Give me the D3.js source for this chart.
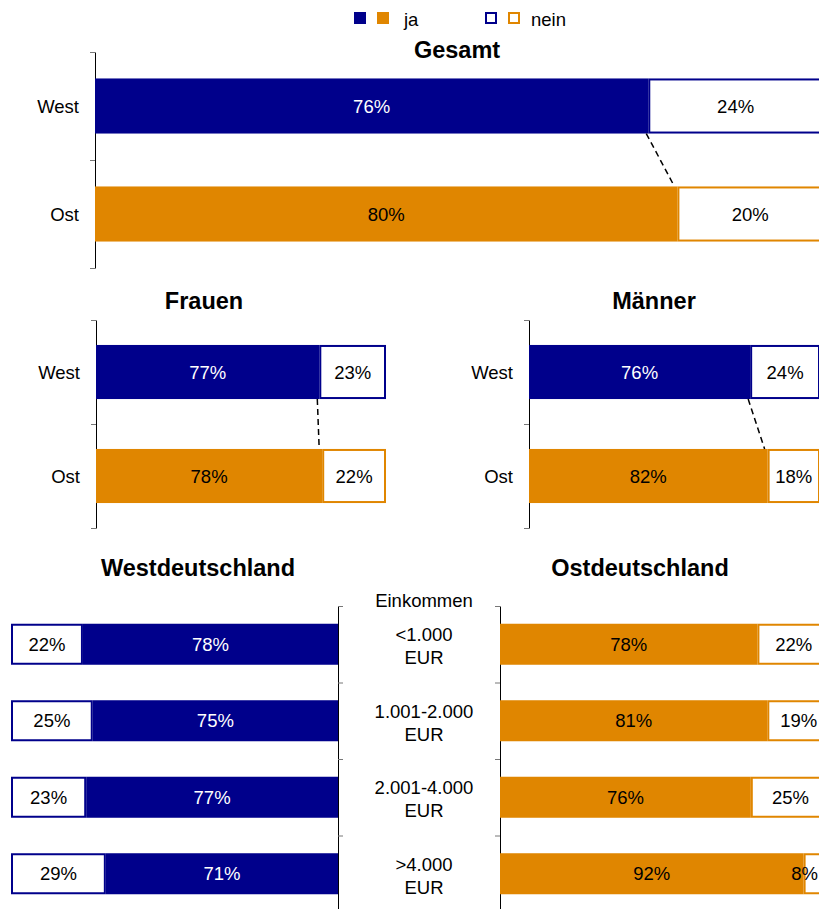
<!DOCTYPE html>
<html lang="de">
<meta charset="utf-8">
<style>
body { margin: 0; background: #fff; }
svg { display: block; font-family: "Liberation Sans", Arial, sans-serif; }
.axis path { stroke: #000; }
.axis line { stroke: #777; }
</style>
<body>
<script src="https://d3js.org/d3.v7.min.js"></script>
<script>
// data
var groups = ["West", "Ost"];
var gesamtJa = [76, 80];
var gesamtNein = [24, 20];
var frauenJa = [77, 78];
var frauenNein = [23, 22];
var maennerJa = [76, 82];
var maennerNein = [24, 18];
var incomeCats = [["<1.000", "EUR"], ["1.001-2.000", "EUR"], ["2.001-4.000", "EUR"], [">4.000", "EUR"]];
var westJa = [78, 75, 77, 71];
var westNein = [22, 25, 23, 29];
var ostJa = [78, 81, 76, 92];
var ostNein = [22, 19, 25, 8];

var blue = "#00008b";
var orange = "#e08600";

var w = 819, h = 909;
var fs = 18.5;

var svg = d3.select("body").append("svg")
  .attr("width", w)
  .attr("height", h);

// legend
var legend = svg.append("g");
legend.append("rect").attr("x", 354).attr("y", 12).attr("width", 12).attr("height", 12).attr("fill", blue);
legend.append("rect").attr("x", 377).attr("y", 12).attr("width", 12).attr("height", 12).attr("fill", orange);
legend.append("text").attr("x", 404).attr("y", 26).attr("font-size", fs).text("ja");
legend.append("rect").attr("x", 486).attr("y", 13).attr("width", 10).attr("height", 10)
  .attr("fill", "#fff").attr("stroke", blue).attr("stroke-width", 2);
legend.append("rect").attr("x", 509).attr("y", 13).attr("width", 10).attr("height", 10)
  .attr("fill", "#fff").attr("stroke", orange).attr("stroke-width", 2);
legend.append("text").attr("x", 531).attr("y", 26).attr("font-size", fs).text("nein");

function title(x, y, t) {
  svg.append("text").attr("x", x).attr("y", y)
    .attr("text-anchor", "middle")
    .attr("font-size", 23.5).attr("font-weight", "bold")
    .text(t);
}

// one panel of stacked bars (ja + nein)
function panel(o) {
  var g = svg.append("g");
  var y = d3.scaleBand().domain(d3.range(o.ja.length)).range(o.yRange).paddingInner(o.pad).paddingOuter(o.pad / 2);
  var x = d3.scaleLinear().domain([0, 100]).range(o.xRange);
  var bw = y.bandwidth();

  // axis with ticks on band boundaries
  var yb = d3.scaleLinear().domain([0, o.ja.length]).range(o.yRange);
  var axis = (o.axisRight ? d3.axisRight(yb) : d3.axisLeft(yb))
    .tickValues(d3.range(o.ja.length + 1)).tickSize(5).tickSizeOuter(0).tickFormat("");
  g.append("g").attr("class", "axis")
    .attr("transform", "translate(" + o.xRange[0] + ",0)")
    .call(axis);

  var rows = g.selectAll(".row").data(o.ja).enter().append("g").attr("class", "row");

  rows.append("rect")
    .attr("x", function(d) { return Math.min(x(0), x(d)); })
    .attr("y", function(d, i) { return y(i); })
    .attr("width", function(d) { return Math.abs(x(d) - x(0)); })
    .attr("height", bw)
    .attr("fill", function(d, i) { return o.color(i); });

  rows.append("rect")
    .attr("x", function(d) { return Math.min(x(d), x(100)) + 1; })
    .attr("y", function(d, i) { return y(i) + 1; })
    .attr("width", function(d) { return Math.abs(x(100) - x(d)) - 2; })
    .attr("height", bw - 2)
    .attr("fill", "#fff")
    .attr("stroke", function(d, i) { return o.color(i); })
    .attr("stroke-width", 2);

  rows.append("text")
    .attr("x", function(d) { return (x(0) + x(d)) / 2; })
    .attr("y", function(d, i) { return y(i) + bw / 2 + 6.5; })
    .attr("text-anchor", "middle")
    .attr("font-size", fs)
    .attr("fill", function(d, i) { return o.color(i) === blue ? "#fff" : "#000"; })
    .text(function(d) { return d + "%"; });

  rows.append("text")
    .attr("x", function(d) { return (x(d) + x(100)) / 2; })
    .attr("y", function(d, i) { return y(i) + bw / 2 + 6.5; })
    .attr("text-anchor", "middle")
    .attr("font-size", fs)
    .text(function(d, i) { return o.nein[i] + "%"; })
    .each(function() {
      // keep the label inside the picture
      var len = this.getComputedTextLength();
      var cx = +d3.select(this).attr("x");
      if (cx + len / 2 > w - 1) d3.select(this).attr("x", w - 1 - len / 2);
    });

  if (o.labels) {
    g.selectAll(".cat").data(o.labels).enter().append("text")
      .attr("x", o.xRange[0] - 16)
      .attr("y", function(d, i) { return y(i) + bw / 2 + 6.5; })
      .attr("text-anchor", "end")
      .attr("font-size", fs)
      .text(function(d) { return d; });
  }

  if (o.connect) {
    g.append("line")
      .attr("x1", x(o.ja[0]) - 2).attr("y1", y(0) + bw)
      .attr("x2", x(o.ja[1]) - 3).attr("y2", y(1))
      .attr("stroke", "#000").attr("stroke-width", 1.5)
      .attr("stroke-dasharray", "6,4");
  }
  return y;
}

var westOst = function(i) { return i === 0 ? blue : orange; };

title(457, 58, "Gesamt");
panel({ ja: gesamtJa, nein: gesamtNein, labels: groups, xRange: [95, 823], yRange: [52, 268], pad: 0.49, color: westOst, connect: true });

title(204, 309, "Frauen");
panel({ ja: frauenJa, nein: frauenNein, labels: groups, xRange: [96, 386], yRange: [320, 528], pad: 0.48, color: westOst, connect: true });

title(654, 309, "Männer");
panel({ ja: maennerJa, nein: maennerNein, labels: groups, xRange: [529, 820], yRange: [320, 528], pad: 0.48, color: westOst, connect: true });

title(198, 576, "Westdeutschland");
var yInc = panel({ ja: westJa, nein: westNein, xRange: [338, 11], yRange: [606, 912], pad: 0.464, color: function() { return blue; }, axisRight: true });

title(640, 576, "Ostdeutschland");
panel({ ja: ostJa, nein: ostNein, xRange: [500, 830], yRange: [606, 912], pad: 0.464, color: function() { return orange; } });

// income categories in the middle
svg.append("text").attr("x", 424).attr("y", 607).attr("text-anchor", "middle").attr("font-size", fs).text("Einkommen");
var cat = svg.selectAll(".inc").data(incomeCats).enter().append("text")
  .attr("class", "inc")
  .attr("text-anchor", "middle")
  .attr("font-size", fs);
cat.selectAll("tspan").data(function(d) { return d; }).enter().append("tspan")
  .attr("x", 424)
  .attr("y", function(d, j, nodes) {
    var i = incomeCats.indexOf(d3.select(nodes[j].parentNode).datum());
    return yInc(i) + yInc.bandwidth() / 2 - 3 + j * 23;
  })
  .text(function(d) { return d; });
</script>
</body>
</html>
